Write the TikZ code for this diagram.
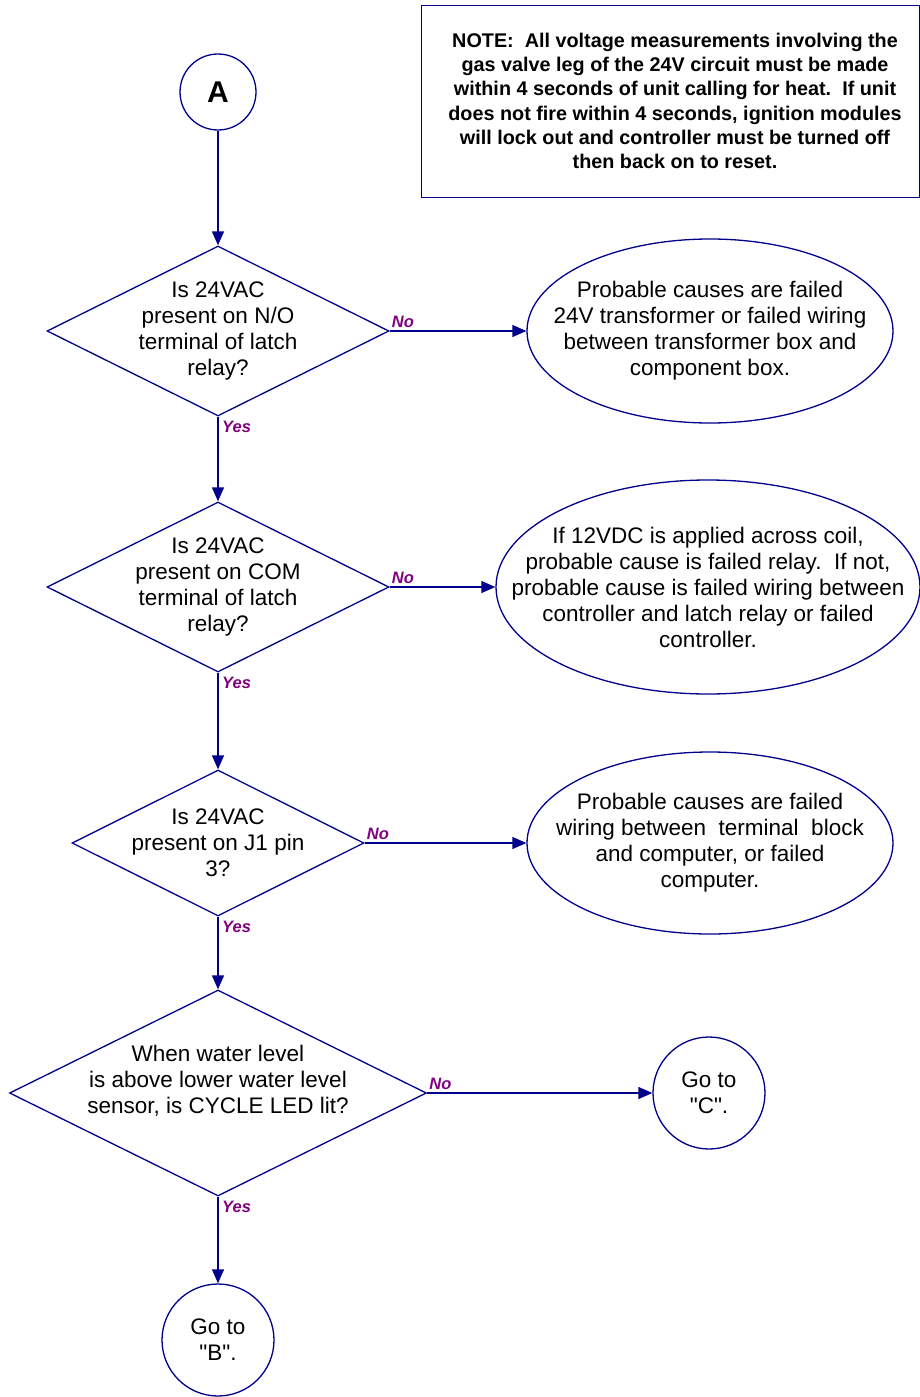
\documentclass[tikz,border=0pt]{standalone}
\usepackage{fontspec}
\setmainfont{Liberation Sans}[Ligatures=TeXOff]
\usetikzlibrary{shapes.geometric,arrows.meta}
\definecolor{navy}{RGB}{0,0,140}
\definecolor{lblpurple}{RGB}{128,0,128}
\tikzset{
  shp/.style={draw=navy,line width=1.3pt,inner sep=0pt},
  dia/.style={shp,diamond},
  ell/.style={shp,ellipse},
  circ/.style={shp,circle},
  txt/.style={align=center,inner sep=0pt,font=\fontsize{22.5}{26}\selectfont},
  conn/.style={draw=navy,line width=1.3pt,-{Triangle[length=14pt,width=12pt]}},
  lbl/.style={text=lblpurple,font=\fontsize{16.5}{18}\selectfont\bfseries\itshape,inner sep=0pt}
}
\begin{document}
\begin{tikzpicture}[x=1pt,y=-1pt]
\useasboundingbox (0,0) rectangle (919,1397);
% note box
\node[draw=navy,line width=1.3pt,minimum width=498pt,minimum height=192pt,anchor=north west,inner sep=0pt] (note) at (421,5) {};
\node[align=center,inner sep=0pt,font=\fontsize{19.8}{24.3}\selectfont\bfseries] (notetxt) at (675,101)
{NOTE:\ \ All voltage measurements involving the\\gas valve leg of the 24V circuit must be made\\within 4 seconds of unit calling for heat.\ \ If unit\\does not fire within 4 seconds, ignition modules\\will lock out and controller must be turned off\\then back on to reset.};
% start
\node[circ,minimum size=76pt,font=\fontsize{30}{30}\selectfont\bfseries] (A) at (218,92) {A};
% diamond 1
\node[dia,minimum width=342pt,minimum height=170pt] (d1) at (218,331) {};
\node[txt] (d1t) at (d1.center) {Is 24VAC\\present on N/O\\terminal of latch\\relay?};
\node[ell,minimum width=366pt,minimum height=184pt] (e1) at (710,331) {};
\node[txt] (e1t) at (e1.center) {Probable causes are failed\\24V transformer or failed wiring\\between transformer box and\\component box.};
% diamond 2
\node[dia,minimum width=342pt,minimum height=170pt] (d2) at (218,587) {};
\node[txt] (d2t) at (d2.center) {Is 24VAC\\present on COM\\terminal of latch\\relay?};
\node[ell,minimum width=424pt,minimum height=214pt] (e2) at (708,587) {};
\node[txt] (e2t) at (e2.center) {If 12VDC is applied across coil,\\probable cause is failed relay.\ \ If not,\\probable cause is failed wiring between\\controller and latch relay or failed\\controller.};
% diamond 3
\node[dia,minimum width=292pt,minimum height=146pt] (d3) at (218,843) {};
\node[txt] (d3t) at (d3.center) {Is 24VAC\\present on J1 pin\\3?};
\node[ell,minimum width=366pt,minimum height=182pt] (e3) at (710,843) {};
\node[txt] (e3t) at (e3.center) {Probable causes are failed\\wiring between\ \ terminal\ \ block\\and computer, or failed\\computer.};
% diamond 4
\node[dia,minimum width=417pt,minimum height=206pt] (d4) at (218,1093) {};
\node[txt] (d4t) at (218,1081) {When water level\\is above lower water level\\sensor, is CYCLE LED lit?};
\node[circ,minimum size=112pt] (C) at (709,1093) {};
\node[txt] (Ct) at (C.center) {Go to\\"C".};
\node[circ,minimum size=112pt] (B) at (218,1340) {};
\node[txt] (Bt) at (B.center) {Go to\\"B".};
% connectors
\draw[conn] (A) -- (d1.north);
\draw[conn] (d1.south) -- (d2.north);
\draw[conn] (d2.south) -- (d3.north);
\draw[conn] (d3.south) -- (d4.north);
\draw[conn] (d4.south) -- (B);
\draw[conn] (d1.east) -- (e1.west);
\draw[conn] (d2.east) -- (e2.west);
\draw[conn] (d3.east) -- (e3.west);
\draw[conn] (d4.east) -- (C.west);
% labels
\node[lbl,anchor=south west] (n1) at ([xshift=2pt,yshift=3pt]d1.east) {No};
\node[lbl,anchor=south west] (n2) at ([xshift=2pt,yshift=3pt]d2.east) {No};
\node[lbl,anchor=south west] (n3) at ([xshift=2pt,yshift=3pt]d3.east) {No};
\node[lbl,anchor=south west] (n4) at ([xshift=2pt,yshift=3pt]d4.east) {No};
\node[lbl,anchor=north west] (y1) at ([xshift=4pt,yshift=-4pt]d1.south) {Yes};
\node[lbl,anchor=north west] (y2) at ([xshift=4pt,yshift=-4pt]d2.south) {Yes};
\node[lbl,anchor=north west] (y3) at ([xshift=4pt,yshift=-4pt]d3.south) {Yes};
\node[lbl,anchor=north west] (y4) at ([xshift=4pt,yshift=-4pt]d4.south) {Yes};
\end{tikzpicture}
\end{document}
